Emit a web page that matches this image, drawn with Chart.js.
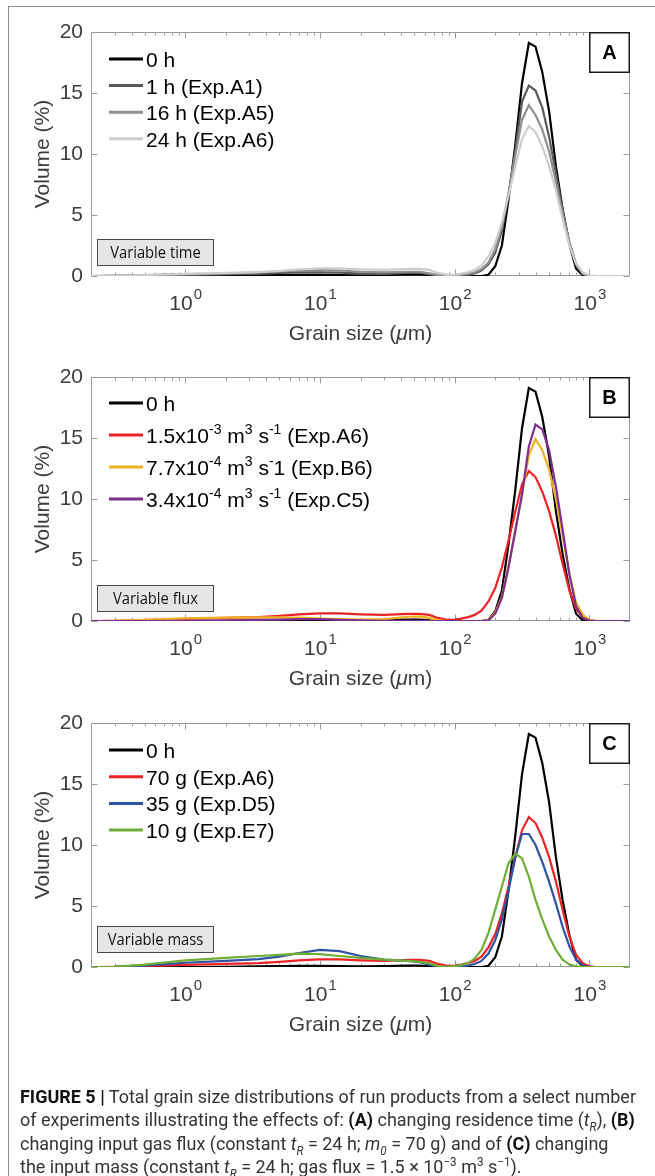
<!DOCTYPE html>
<html>
<head>
<meta charset="utf-8">
<script src="https://cdn.jsdelivr.net/npm/chart.js@4.4.0/dist/chart.umd.min.js"></script>
<style>
  html, body { margin: 0; padding: 0; background: #fff; }
  #fig { position: relative; width: 655px; height: 1176px; overflow: hidden; background: #fff; }
  #fig canvas { position: absolute; left: 0; }
  #frame { position: absolute; left: 8px; top: 6px; width: 800px; height: 1300px;
           border-left: 1.5px solid #8c8c8c; border-top: 1.5px solid #8c8c8c; pointer-events: none; }
  #caption { position: absolute; left: 20px; top: 1086px; font-family: "Liberation Sans Narrow", Roboto, "Liberation Sans", sans-serif;
             font-size: 18.5px; line-height: 23.4px; color: #333; }
  #caption .ln { display: block; width: max-content; white-space: nowrap; transform-origin: 0 0; }
  #caption b { color: #111; }
  #caption sub, #caption sup { font-size: 12px; line-height: 0; }
</style>
</head>
<body>
<div id="fig">
  <canvas id="cA" width="655" height="352" style="top:0px"></canvas>
  <canvas id="cB" width="655" height="352" style="top:345px"></canvas>
  <canvas id="cC" width="655" height="352" style="top:691px"></canvas>
  <div id="frame"></div>
  <div id="caption">
    <span class="ln"><b>FIGURE 5 |</b> Total grain size distributions of run products from a select number</span>
    <span class="ln">of experiments illustrating the effects of: <b>(A)</b> changing residence time (<i>t<sub>R</sub></i>), <b>(B)</b></span>
    <span class="ln">changing input gas flux (constant <i>t<sub>R</sub></i> = 24 h; <i>m<sub>0</sub></i> = 70 g) and of <b>(C)</b> changing</span>
    <span class="ln">the input mass (constant <i>t<sub>R</sub></i> = 24 h; gas flux = 1.5 × 10<sup>−3</sup> m<sup>3</sup> s<sup>−1</sup>).</span>
  </div>
</div>
<script>
// grain size classes (um)
const sizes = [0.2, 0.3, 0.5, 1, 2, 3.5, 5, 7, 10, 14, 20, 30, 45, 55, 65, 75, 88,
  100, 112, 126, 141, 158, 178, 200, 224, 251, 282, 316, 355, 398, 447, 502, 564, 632, 710, 796, 893, 1002, 1125, 1262, 2000];

// volume (%) per class
const h0 = [0, 0, 0, 0, 0.02, 0.05, 0.08, 0.1, 0.1, 0.08, 0.06, 0.08, 0.12, 0.12, 0.05, 0, 0,
  0, 0, 0, 0, 0, 0.1, 0.8, 2.5, 6.3, 10.8, 15.8, 19.1, 18.8, 16.7, 13.5, 9.0, 5.5, 2.6, 0.6, 0.05, 0, 0, 0, 0];
const expA1 = [0, 0.02, 0.05, 0.1, 0.15, 0.2, 0.25, 0.3, 0.3, 0.28, 0.2, 0.18, 0.25, 0.25, 0.15, 0.05, 0.02,
  0.03, 0.06, 0.12, 0.22, 0.45, 0.95, 1.9, 3.7, 6.7, 10.3, 14.3, 15.6, 15.2, 13.8, 11.4, 8.4, 5.4, 2.7, 0.9, 0.15, 0, 0, 0, 0];
const expA5 = [0, 0.03, 0.08, 0.15, 0.2, 0.3, 0.38, 0.45, 0.5, 0.45, 0.35, 0.3, 0.35, 0.35, 0.22, 0.08, 0.05,
  0.08, 0.12, 0.18, 0.3, 0.55, 1.1, 2.2, 4.0, 6.8, 9.9, 12.8, 14.0, 13.2, 12.0, 10.2, 7.7, 5.1, 2.8, 1.0, 0.2, 0.02, 0, 0, 0];
const expA6 = [0, 0.02, 0.08, 0.18, 0.25, 0.32, 0.42, 0.55, 0.62, 0.62, 0.55, 0.5, 0.58, 0.58, 0.5, 0.25, 0.1,
  0.12, 0.2, 0.32, 0.5, 0.85, 1.6, 2.7, 4.4, 6.6, 9.0, 11.2, 12.3, 11.8, 10.6, 9.0, 7.0, 4.7, 2.5, 1.0, 0.3, 0.05, 0, 0, 0];
const expB6 = [0, 0.02, 0.1, 0.22, 0.27, 0.3, 0.3, 0.28, 0.2, 0.15, 0.12, 0.15, 0.35, 0.38, 0.25, 0.08, 0,
  0, 0, 0, 0, 0, 0.1, 0.7, 2.0, 4.5, 7.5, 10.3, 13.6, 14.9, 14.0, 12.4, 10.0, 7.0, 3.9, 1.5, 0.5, 0.1, 0, 0, 0];
const expC5 = [0, 0, 0, 0.02, 0.05, 0.1, 0.12, 0.15, 0.15, 0.1, 0.05, 0.02, 0.02, 0.02, 0, 0, 0,
  0, 0, 0, 0, 0, 0.05, 0.6, 1.9, 4.4, 7.4, 10.4, 14.3, 16.1, 15.7, 14.0, 11.0, 7.5, 3.8, 1.2, 0.25, 0.03, 0, 0, 0];
const expD5 = [0, 0.02, 0.12, 0.35, 0.5, 0.65, 0.85, 1.15, 1.4, 1.3, 0.9, 0.6, 0.5, 0.4, 0.2, 0.02, 0,
  0, 0.05, 0.12, 0.25, 0.5, 1.1, 2.2, 3.9, 6.3, 9.0, 10.9, 10.9, 10.0, 8.6, 7.0, 5.2, 3.3, 1.7, 0.6, 0.1, 0, 0, 0, 0];
const expE7 = [0, 0.02, 0.2, 0.55, 0.75, 0.9, 1.0, 1.1, 1.05, 0.9, 0.75, 0.6, 0.5, 0.42, 0.3, 0.08, 0.02,
  0.08, 0.15, 0.3, 0.7, 1.4, 2.8, 4.7, 6.6, 8.5, 9.3, 8.9, 7.4, 5.5, 3.9, 2.5, 1.4, 0.6, 0.2, 0.05, 0, 0, 0, 0, 0];

// axis ticks
const yTicks = [0, 5, 10, 15, 20];
const xDecades = [0, 1, 2, 3];

// legend labels (^{..} = superscript)
const labelsA = ['0 h', '1 h (Exp.A1)', '16 h (Exp.A5)', '24 h (Exp.A6)'];
const labelsB = ['0 h', '1.5x10^{-3} m^{3} s^{-1} (Exp.A6)', '7.7x10^{-4} m^{3} s^{-}1 (Exp.B6)', '3.4x10^{-4} m^{3} s^{-1} (Exp.C5)'];
const labelsC = ['0 h', '70 g (Exp.A6)', '35 g (Exp.D5)', '10 g (Exp.E7)'];

const FONT = '"Liberation Sans", Arial, Helvetica, sans-serif';
const axisGray = '#9a9a9a';
const textGray = '#3c3c3c';

const panels = [
  { id: 'cA', letter: 'A', note: 'Variable time', noteTop: 239, legendTop: 59, legendStep: 26.6,
    labels: labelsA, series: [h0, expA1, expA5, expA6], colors: ['#000000', '#5a5a5a', '#8f8f8f', '#cdcdcd'] },
  { id: 'cB', letter: 'B', note: 'Variable flux', noteTop: 240, legendTop: 58, legendStep: 32,
    labels: labelsB, series: [h0, expA6, expB6, expC5], colors: ['#000000', '#ec2227', '#edb120', '#7e2f8e'] },
  { id: 'cC', letter: 'C', note: 'Variable mass', noteTop: 235, legendTop: 59, legendStep: 26.7,
    labels: labelsC, series: [h0, expA6, expD5, expE7], colors: ['#000000', '#ec2227', '#2f52a3', '#70ad37'] }
];

function drawRich(ctx, str, x, y, size) {
  const parts = str.split(/\^\{([^}]*)\}/);
  let cx = x;
  parts.forEach(function (p, i) {
    if (!p) return;
    const sup = i % 2 === 1;
    ctx.font = (sup ? Math.round(size * 0.68) : size) + 'px ' + FONT;
    ctx.fillText(p, cx, sup ? y - size * 0.45 : y);
    cx += ctx.measureText(p).width;
  });
}

function makeDecor(p) {
  return {
    id: 'decor' + p.letter,
    beforeDatasetsDraw(chart) {
      const ctx = chart.ctx, a = chart.chartArea, x = chart.scales.x, y = chart.scales.y;
      ctx.save();
      ctx.strokeStyle = axisGray;
      ctx.lineWidth = 1;
      const L = Math.round(a.left) + 0.5, R = Math.round(a.right) - 0.5;
      const T = Math.round(a.top) + 0.5, B = Math.round(a.bottom) - 0.5;
      ctx.strokeRect(L, T, R - L, B - T);
      ctx.beginPath();
      // log ticks, inward, top and bottom
      for (let e = -1; e <= 3; e++) {
        for (let m = 1; m <= 9; m++) {
          const v = m * Math.pow(10, e);
          if (v <= x.min || v >= x.max) continue;
          const px = Math.round(x.getPixelForValue(v)) + 0.5;
          const len = m === 1 ? 6 : 3;
          ctx.moveTo(px, B); ctx.lineTo(px, B - len);
          ctx.moveTo(px, T); ctx.lineTo(px, T + len);
        }
      }
      yTicks.forEach(function (v) {
        const py = Math.round(y.getPixelForValue(v)) + 0.5;
        ctx.moveTo(L, py); ctx.lineTo(L + 6, py);
        ctx.moveTo(R, py); ctx.lineTo(R - 6, py);
      });
      ctx.stroke();
      ctx.restore();
    },
    afterDraw(chart) {
      const ctx = chart.ctx, a = chart.chartArea, x = chart.scales.x;
      ctx.save();
      // x tick labels 10^n
      ctx.fillStyle = textGray;
      ctx.textBaseline = 'alphabetic';
      ctx.textAlign = 'left';
      xDecades.forEach(function (e) {
        const px = x.getPixelForValue(Math.pow(10, e));
        ctx.font = '21px ' + FONT;
        const wb = ctx.measureText('10').width;
        ctx.font = '15px ' + FONT;
        const ws = ctx.measureText(String(e)).width;
        const sx = px - (wb + ws) / 2;
        ctx.font = '21px ' + FONT;
        ctx.fillText('10', sx, a.bottom + 34);
        ctx.font = '15px ' + FONT;
        ctx.fillText(String(e), sx + wb + 1, a.bottom + 23);
      });
      // x title with italic mu
      ctx.font = '21px ' + FONT;
      const t1 = 'Grain size (', t3 = 'm)';
      const w1 = ctx.measureText(t1).width, w3 = ctx.measureText(t3).width;
      ctx.font = 'italic 21px ' + FONT;
      const w2 = ctx.measureText('\u03bc').width;
      let tx = (a.left + a.right) / 2 - (w1 + w2 + w3) / 2;
      const ty = a.bottom + 64;
      ctx.font = '21px ' + FONT; ctx.fillText(t1, tx, ty); tx += w1;
      ctx.font = 'italic 21px ' + FONT; ctx.fillText('\u03bc', tx, ty); tx += w2;
      ctx.font = '21px ' + FONT; ctx.fillText(t3, tx, ty);
      // y title
      ctx.save();
      ctx.translate(43, (a.top + a.bottom) / 2);
      ctx.rotate(-Math.PI / 2);
      ctx.textAlign = 'center';
      ctx.textBaseline = 'middle';
      ctx.font = '21px ' + FONT;
      ctx.fillText('Volume (%)', 0, 0);
      ctx.restore();
      // legend
      ctx.textAlign = 'left';
      ctx.textBaseline = 'alphabetic';
      p.labels.forEach(function (lab, i) {
        const ly = p.legendTop + i * p.legendStep;
        ctx.strokeStyle = p.colors[i];
        ctx.lineWidth = 3;
        ctx.beginPath();
        ctx.moveTo(109, ly); ctx.lineTo(143, ly);
        ctx.stroke();
        ctx.fillStyle = '#000';
        drawRich(ctx, lab, 146, ly + 8, 21);
      });
      // panel letter box
      ctx.fillStyle = '#fff';
      ctx.fillRect(589, a.top, a.right - 589, 40);
      ctx.strokeStyle = '#1a1a1a';
      ctx.lineWidth = 1.5;
      ctx.strokeRect(589.75, a.top + 0.75, a.right - 590.5, 39.5);
      ctx.fillStyle = '#000';
      ctx.font = 'bold 20px ' + FONT;
      ctx.textAlign = 'center';
      ctx.textBaseline = 'middle';
      ctx.fillText(p.letter, (589 + a.right) / 2, a.top + 21);
      // note box
      ctx.fillStyle = '#e6e6e6';
      ctx.fillRect(97, p.noteTop, 116, 26);
      ctx.strokeStyle = '#4a4a4a';
      ctx.lineWidth = 1;
      ctx.strokeRect(97.5, p.noteTop + 0.5, 116, 26);
      ctx.fillStyle = '#111';
      ctx.save();
      ctx.translate(155.5, p.noteTop + 14);
      ctx.scale(0.92, 1);
      ctx.font = '16px "Open Sans", "Liberation Sans", sans-serif';
      ctx.fillText(p.note, 0, 0);
      ctx.restore();
      ctx.restore();
    }
  };
}

panels.forEach(function (p) {
  const datasets = p.series.map(function (vals, i) {
    return {
      label: p.labels[i],
      data: sizes.map(function (s, k) { return { x: s, y: vals[k] }; }),
      borderColor: p.colors[i],
      backgroundColor: p.colors[i],
      borderWidth: 2.2,
      pointRadius: 0,
      tension: 0,
      fill: false
    };
  });
  // black drawn last, on top
  datasets.reverse();
  new Chart(document.getElementById(p.id), {
    type: 'line',
    data: { datasets: datasets },
    options: {
      responsive: false,
      animation: false,
      devicePixelRatio: 1,
      layout: { padding: { top: 32, right: 25, left: 0, bottom: 0 } },
      plugins: { legend: { display: false }, tooltip: { enabled: false } },
      scales: {
        x: {
          type: 'logarithmic', min: 0.2, max: 2000,
          grid: { display: false, drawTicks: false }, border: { display: false },
          ticks: { display: false },
          afterFit: function (s) { s.height = 352 - 276; }
        },
        y: {
          min: 0, max: 20,
          grid: { display: false, drawTicks: false }, border: { display: false },
          ticks: { stepSize: 5, padding: 8, color: textGray, font: { family: 'Liberation Sans', size: 21 } },
          afterFit: function (s) { s.width = 91; }
        }
      }
    },
    plugins: [makeDecor(p)]
  });
});

// squeeze the caption lines to the column width
(function () {
  const lines = document.querySelectorAll('#caption .ln');
  const w = lines[0].getBoundingClientRect().width;
  const k = 616 / w;
  lines.forEach(function (l) { l.style.transform = 'scaleX(' + k + ')'; });
})();
</script>
</body>
</html>
